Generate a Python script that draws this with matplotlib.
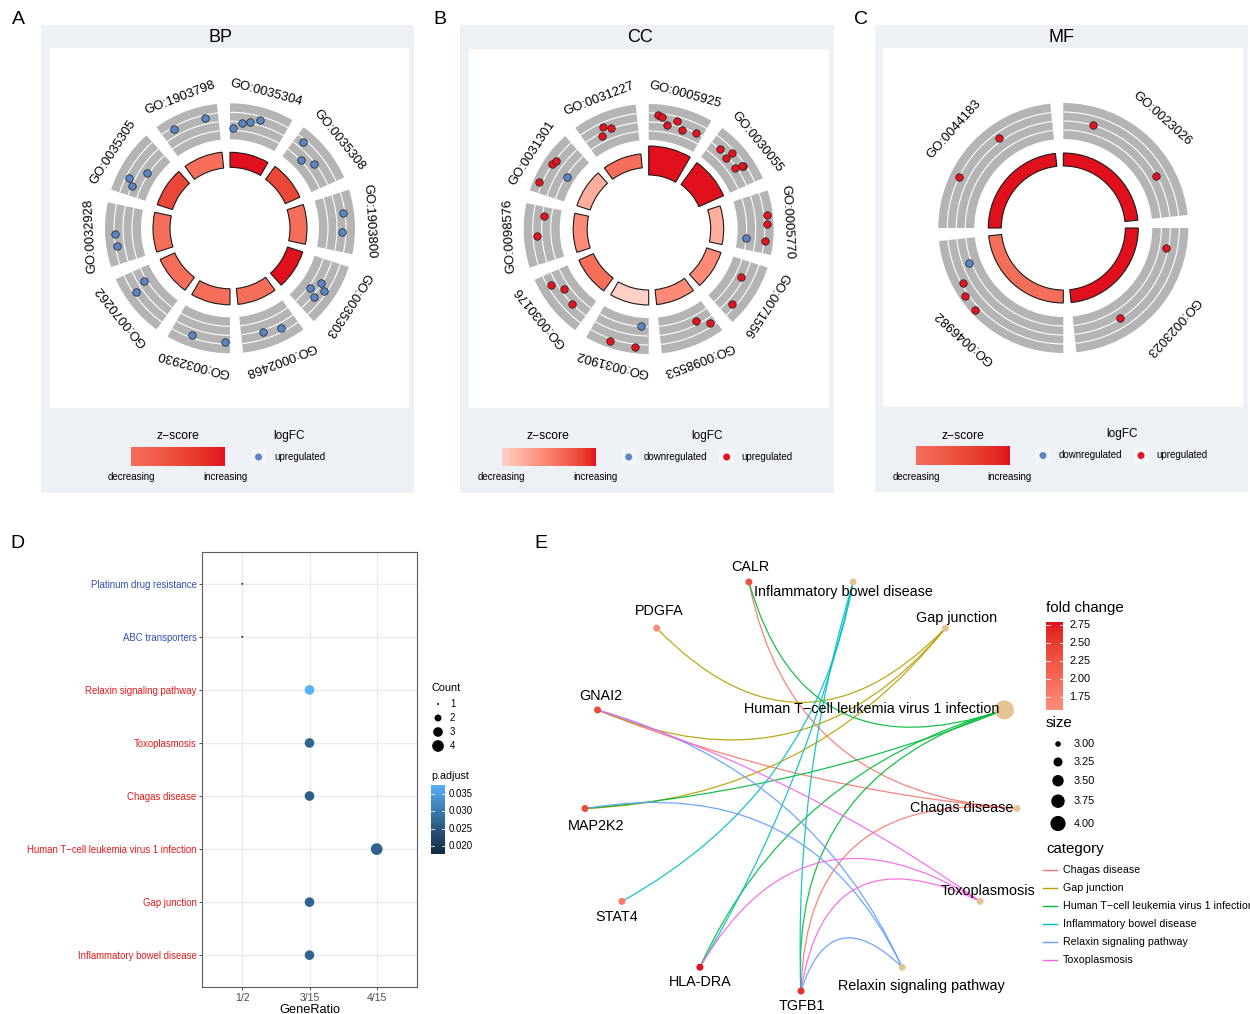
import numpy as np
import matplotlib
matplotlib.use("Agg")
import matplotlib.pyplot as plt
import matplotlib.colors as mcolors
from matplotlib.patches import Wedge, Arc, Rectangle, PathPatch
from matplotlib.path import Path

plt.rcParams["font.family"] = ["Liberation Sans", "DejaVu Sans"]

W, H = 1250, 1014
MINUS = "\u2212"

# ---------------------------------------------------------------- GO circles
# gene_slot: position of each gene inside its term's sector (0..1)
bp_terms = ["GO:0035304", "GO:0035308", "GO:1903800", "GO:0035303", "GO:0002468",
            "GO:0032930", "GO:0070262", "GO:0032928", "GO:0035305", "GO:1903798"]
bp_neglog_padj = [3.0, 3.2, 3.4, 3.2, 3.2, 3.2, 3.2, 3.4, 3.2, 3.2]
bp_gene_slot = [[0.06, 0.22, 0.36, 0.52], [0.15, 0.34, 0.56], [0.35, 0.66],
                [0.63, 0.44, 0.52, 0.71], [0.62, 0.29], [0.66, 0.09], [0.75, 0.66],
                [0.50, 0.31], [0.29, 0.18, 0.53], [0.21, 0.77]]
bp_logfc = [[0.92, 1.42, 1.58, 1.92], [2.00, 0.83, 1.42], [2.08, 1.92],
            [0.92, 1.42, 2.00, 1.58], [1.67, 1.92], [2.00, 2.08], [1.00, 2.08],
            [2.17, 2.08], [2.00, 1.50, 0.92], [2.08, 2.00]]
bp_lfc_range = (0.0, 3.0)

cc_terms = ["GO:0005925", "GO:0030055", "GO:0005770", "GO:0071556", "GO:0098553",
            "GO:0031902", "GO:0030176", "GO:0098576", "GO:0031301", "GO:0031227"]
cc_neglog_padj = [5.8, 5.4, 2.6, 3.0, 3.0, 3.0, 3.2, 2.8, 2.8, 2.8]
cc_gene_slot = [[0.16, 0.23, 0.33, 0.49, 0.62, 0.88], [0.19, 0.38, 0.37, 0.63, 0.68, 0.66],
                [0.38, 0.52, 0.79, 0.77], [0.31, 0.81], [0.29, 0.09], [0.15, 0.63, 0.22],
                [0.81, 0.62, 0.32], [0.83, 0.48], [0.53, 0.60, 0.18, 0.47], [0.39, 0.51, 0.31]]
cc_logfc = [[1.62, 1.50, 0.62, 1.38, 0.38, 0.75], [0.75, 1.50, 0.50, 0.62, 1.50, 1.45],
            [2.25, 2.12, 2.00, -0.38], [0.38, 1.38], [0.38, 1.38], [-0.50, 2.12, 2.25],
            [1.38, 0.38, 0.75], [0.50, 1.38], [1.88, 1.75, 2.25, -0.50], [1.38, 0.88, 0.38]]
cc_lfc_range = (-1.5, 3.0)

mf_terms = ["GO:0023026", "GO:0023023", "GO:0046982", "GO:0044183"]
mf_neglog_padj = [2.6, 2.6, 2.6, 2.6]
mf_gene_slot = [[0.19, 0.725], [0.13, 0.69], [0.83, 0.73, 0.66, 0.56], [0.31, 0.65]]
mf_logfc = [[0.75, 0.62], [0.50, 0.62], [-0.12, 1.62, 2.25, 2.38], [1.88, 1.25]]
mf_lfc_range = (-1.5, 3.0)

# ---------------------------------------------------------------- KEGG dotplot
kegg_terms = ["Platinum drug resistance", "ABC transporters", "Relaxin signaling pathway",
              "Toxoplasmosis", "Chagas disease",
              "Human T" + MINUS + "cell leukemia virus 1 infection",
              "Gap junction", "Inflammatory bowel disease"]
kegg_ratio = ["1/2", "1/2", "3/15", "3/15", "3/15", "4/15", "3/15", "3/15"]
kegg_count = [1, 1, 3, 3, 3, 4, 3, 3]
kegg_padj = [0.0177, 0.0177, 0.0376, 0.0270, 0.0258, 0.0266, 0.0268, 0.0268]
kegg_direction = ["down", "down", "up", "up", "up", "up", "up", "up"]
ratio_levels = ["1/2", "3/15", "4/15"]
padj_breaks = [0.020, 0.025, 0.030, 0.035]

# ---------------------------------------------------------------- gene-concept network
htlv = "Human T" + MINUS + "cell leukemia virus 1 infection"
net_order = ["TGFB1", "Relaxin signaling pathway", "Toxoplasmosis", "Chagas disease",
             htlv, "Gap junction", "Inflammatory bowel disease",
             "CALR", "PDGFA", "GNAI2", "MAP2K2", "STAT4", "HLA-DRA"]
gene_fold_change = {"TGFB1": 2.60, "CALR": 2.30, "PDGFA": 1.57, "GNAI2": 2.40,
                    "MAP2K2": 2.35, "STAT4": 1.85, "HLA-DRA": 2.79}
pathway_genes = {
    "Chagas disease": ["CALR", "GNAI2", "TGFB1"],
    "Gap junction": ["PDGFA", "GNAI2", "MAP2K2"],
    htlv: ["CALR", "MAP2K2", "HLA-DRA", "TGFB1"],
    "Inflammatory bowel disease": ["STAT4", "HLA-DRA", "TGFB1"],
    "Relaxin signaling pathway": ["GNAI2", "MAP2K2", "TGFB1"],
    "Toxoplasmosis": ["GNAI2", "HLA-DRA", "TGFB1"],
}
fc_breaks = [1.75, 2.00, 2.25, 2.50, 2.75]
size_breaks = [3.00, 3.25, 3.50, 3.75, 4.00]
category_palette = ["#F8766D", "#B79F00", "#00BA38", "#00BFC4", "#619CFF", "#F564E3"]

# ---------------------------------------------------------------- colour helpers (CIELAB ramps)
_M = np.array([[0.4124564, 0.3575761, 0.1804375],
               [0.2126729, 0.7151522, 0.0721750],
               [0.0193339, 0.1191920, 0.9503041]])
_WHITE = np.array([0.95047, 1.0, 1.08883])


def to_lab(c):
    rgb = np.asarray(mcolors.to_rgb(c), float)
    lin = np.where(rgb <= 0.04045, rgb / 12.92, ((rgb + 0.055) / 1.055) ** 2.4)
    xyz = (_M @ lin) / _WHITE
    f = np.where(xyz > 216 / 24389, np.cbrt(xyz), (24389 / 27 * xyz + 16) / 116)
    return np.array([116 * f[1] - 16, 500 * (f[0] - f[1]), 200 * (f[1] - f[2])])


def from_lab(lab):
    lab = np.atleast_2d(lab)
    fy = (lab[:, 0] + 16) / 116
    f = np.stack([fy + lab[:, 1] / 500, fy, fy - lab[:, 2] / 200], -1)
    xyz = np.where(f ** 3 > 216 / 24389, f ** 3, (116 * f - 16) / (24389 / 27)) * _WHITE
    lin = np.clip(xyz @ np.linalg.inv(_M).T, 0, 1)
    rgb = np.where(lin <= 0.0031308, 12.92 * lin, 1.055 * lin ** (1 / 2.4) - 0.055)
    return np.clip(rgb, 0, 1)


def lab_ramp(c0, c1, t):
    t = np.atleast_1d(np.asarray(t, float))[:, None]
    l0, l1 = to_lab(c0), to_lab(c1)
    return from_lab(l0 + (l1 - l0) * t)


RED_HIGH = "#E0101C"
DOT_BLUE = "#5A86C6"
DOT_RED = "#E3141F"
GRAY_RING = "#B4B4B4"
PANEL_BG = "#EDF1F5"


def mid_red(v, vmax):
    # white -> red half of a diverging scale centred on zero
    return lab_ramp("#FFFFFF", RED_HIGH, np.clip(np.asarray(v) / vmax, 0, 1))


# ---------------------------------------------------------------- figure
fig = plt.figure(figsize=(W / 100, H / 100), dpi=100)
bg = fig.add_axes([0, 0, 1, 1])
bg.set_xlim(0, W)
bg.set_ylim(H, 0)
bg.axis("off")


def px_axes(x0, y0, x1, y1):
    return fig.add_axes([x0 / W, 1 - y1 / H, (x1 - x0) / W, (y1 - y0) / H])


R_IN, R_OUT = 89.0, 125.0
BAR_MID, BAR_SCALE = 68.5, 5.0
GAP = 6.0


def go_circle(box, center, terms, neglogp, slots, lfcs, lfc_range, label_r):
    x0, y0, x1, y1 = box
    cx, cy = center
    ax = px_axes(x0, y0, x1, y1)
    ax.set_xlim(x0 - cx, x1 - cx)
    ax.set_ylim(cy - y1, cy - y0)
    ax.axis("off")
    n = len(terms)
    step = 360.0 / n
    lo, hi = lfc_range
    z = [(sum(v > 0 for v in g) - sum(v < 0 for v in g)) / np.sqrt(len(g)) for g in lfcs]
    zmax = max(abs(v) for v in z)
    levels = [lev for lev in ("down", "up")
              if any((v < 0) if lev == "down" else (v > 0) for g in lfcs for v in g)]
    pal = dict(zip(levels, [DOT_BLUE, DOT_RED]))
    for i, term in enumerate(terms):
        a0 = i * step
        a1 = a0 + step - GAP
        t1, t2 = 90 - a1, 90 - a0
        ax.add_patch(Wedge((0, 0), R_OUT, t1, t2, width=R_OUT - R_IN,
                           facecolor=GRAY_RING, edgecolor="none", zorder=1))
        for k in range(1, 4):
            r = R_IN + k * (R_OUT - R_IN) / 4
            ax.add_patch(Arc((0, 0), 2 * r, 2 * r, theta1=t1, theta2=t2,
                             color="white", lw=0.8, zorder=2))
        h = BAR_SCALE * neglogp[i]
        ax.add_patch(Wedge((0, 0), BAR_MID + h / 2, t1, t2, width=h,
                           facecolor=mid_red(z[i], zmax)[0], edgecolor="#1A1A1A",
                           lw=0.8, zorder=2))
        for s, v in zip(slots[i], lfcs[i]):
            ang = np.deg2rad(90 - (a0 + s * (step - GAP)))
            r = R_IN + (v - lo) / (hi - lo) * (R_OUT - R_IN)
            ax.scatter(r * np.cos(ang), r * np.sin(ang), s=29,
                       color=pal["down" if v < 0 else "up"], edgecolors="#1A1A1A",
                       linewidths=0.5, zorder=4)
        mid = a0 + (step - GAP) / 2
        ax.text(label_r * np.sin(np.deg2rad(mid)), label_r * np.cos(np.deg2rad(mid)), term,
                rotation=-mid, rotation_mode="anchor", ha="center", va="center",
                fontsize=9.4, zorder=5)
    return z, zmax, levels, pal


# panel backgrounds
for (px0, py0, px1, py1), (wx0, wy0, wx1, wy1) in [
        ((41, 25, 414, 493), (50, 48, 409, 408)),
        ((460, 25, 834, 493), (469, 49, 829, 408)),
        ((875, 25, 1248, 492), (883, 48, 1243, 407))]:
    bg.add_patch(Rectangle((px0, py0), px1 - px0, py1 - py0, facecolor=PANEL_BG, edgecolor="none"))
    bg.add_patch(Rectangle((wx0, wy0), wx1 - wx0, wy1 - wy0, facecolor="white", edgecolor="none"))

circ_bp = go_circle((50, 48, 409, 408), (230, 228.3), bp_terms, bp_neglog_padj,
                    bp_gene_slot, bp_logfc, bp_lfc_range, 140)
circ_cc = go_circle((469, 49, 829, 408), (648.7, 229), cc_terms, cc_neglog_padj,
                    cc_gene_slot, cc_logfc, cc_lfc_range, 139)
circ_mf = go_circle((883, 48, 1243, 407), (1063.3, 228), mf_terms, mf_neglog_padj,
                    mf_gene_slot, mf_logfc, mf_lfc_range, 147)

# ---------------------------------------------------------------- D: KEGG dotplot
axd = px_axes(202, 552, 417, 987)
nk = len(kegg_terms)
kx = [ratio_levels.index(r) + 1 for r in kegg_ratio]
ky = [nk - i for i in range(nk)]
cmin, cmax = min(kegg_count), max(kegg_count)
pmin, pmax = min(kegg_padj), max(kegg_padj)


def count_diam(c):
    return 1.95 * np.sqrt(1 + (np.asarray(c, float) - cmin) / (cmax - cmin) * 35)


def padj_colour(p):
    return lab_ramp("#132B43", "#56B1F7", (np.asarray(p, float) - pmin) / (pmax - pmin))


axd.scatter(kx, ky, s=(count_diam(kegg_count) * 0.72) ** 2, c=padj_colour(kegg_padj),
            edgecolors="none", zorder=3)
axd.set_xlim(0.4, len(ratio_levels) + 0.6)
axd.set_ylim(0.4, nk + 0.6)
axd.set_xticks(range(1, len(ratio_levels) + 1))
axd.set_xticklabels(ratio_levels, fontsize=7.5, color="#4D4D4D")
axd.set_yticks(ky)
axd.set_yticklabels(kegg_terms, fontsize=6.9)
for lab, d in zip(axd.get_yticklabels(), kegg_direction):
    lab.set_color("#3050B5" if d == "down" else "#E41A1C")
axd.grid(True, color="#EBEBEB", lw=1.0, zorder=0)
axd.set_axisbelow(True)
axd.tick_params(length=2.5, width=0.6, color="#333333", pad=1.5)
for sp in axd.spines.values():
    sp.set_color("#5A5A5A")
    sp.set_linewidth(0.8)
axd.set_xlabel("GeneRatio", fontsize=9.2, labelpad=1)

# ---------------------------------------------------------------- E: gene-concept network
axe = px_axes(529, 534.5, 1073, 1032.5)
axe.set_xlim(-1.25, 1.25)
axe.set_ylim(-1.2, 1.2)
axe.axis("off")
nn = len(net_order)
pos = {name: np.array([np.cos(np.deg2rad(270 + i * 360 / nn)),
                       np.sin(np.deg2rad(270 + i * 360 / nn))])
       for i, name in enumerate(net_order)}
categories = list(pathway_genes.keys())
cat_colour = dict(zip(categories, category_palette))


def edge_path(p0, p1):
    m = (p0 + p1) / 2
    d = p1 - p0
    L = np.hypot(*d)
    sh = min(L / 2, 0.999)
    sag = sh * (1 - sh) / np.sqrt(1 - sh ** 2) * (1 + 0.3 * sh)
    nrm = np.array([-d[1], d[0]]) / L
    if np.dot(nrm, -m) < 0:
        nrm = -nrm
    ctrl = m + nrm * 2 * sag
    return Path([p0, ctrl, p1], [Path.MOVETO, Path.CURVE3, Path.CURVE3])


for cat, genes in pathway_genes.items():
    for g in genes:
        axe.add_patch(PathPatch(edge_path(pos[cat], pos[g]), facecolor="none",
                                edgecolor=cat_colour[cat], lw=0.9, alpha=0.9, zorder=1))

fc_min, fc_max = min(gene_fold_change.values()), max(gene_fold_change.values())


def node_diam(v):
    return np.sqrt(49 + 312 * (np.asarray(v, float) - 3))


for g, fc in gene_fold_change.items():
    axe.scatter(*pos[g], s=(7 * 0.72) ** 2, color=mid_red(fc, fc_max)[0],
                edgecolors="none", zorder=3)
for cat, genes in pathway_genes.items():
    axe.scatter(*pos[cat], s=(node_diam(len(genes)) * 0.72) ** 2, color="#E5C494",
                edgecolors="none", zorder=3)

# label placement: (dx, dy) in pixels (y downwards) and alignment
label_place = {
    "CALR": (1, -15, "center"), "Inflammatory bowel disease": (-10, 10, "center"),
    "PDGFA": (3, -17, "center"), "Gap junction": (11, -10, "center"),
    "GNAI2": (3, -14, "center"), htlv: (-5, -1, "right"),
    "MAP2K2": (11, 17, "center"), "Chagas disease": (-4, -1, "right"),
    "STAT4": (-5, 16, "center"), "Toxoplasmosis": (8, -10, "center"),
    "HLA-DRA": (0, 15, "center"), "Relaxin signaling pathway": (19, 19, "center"),
    "TGFB1": (1, 15, "center"),
}
for name in net_order:
    dx, dy, ha = label_place[name]
    axe.annotate(name, xy=pos[name], xytext=(dx * 0.72, -dy * 0.72),
                 textcoords="offset points", ha=ha, va="center", fontsize=10.4,
                 zorder=5, annotation_clip=False)

# ---------------------------------------------------------------- overlay: letters, titles, legends
ov = fig.add_axes([0, 0, 1, 1])
ov.patch.set_alpha(0)
ov.axis("off")

for letter, (x, y) in zip("ABCDE", [(18, 20), (440, 20), (861, 20), (17, 543), (541, 543)]):
    ov.text(x, y, letter, fontsize=14, ha="center", va="center")

for title, x in [("BP", 221), ("CC", 640), ("MF", 1061)]:
    ov.text(x, 37, title, fontsize=13, ha="center", va="center")


def zscore_legend(x0, x1, y0, y1, title_x, circ):
    z, zmax = circ[0], circ[1]
    zs = np.linspace(min(z), max(z), 200)
    img = mid_red(zs, zmax)[None, :, :]
    ov.imshow(img, extent=(x0, x1, y1, y0), aspect="auto", interpolation="bilinear", zorder=2)
    ov.text(title_x, 436, "z" + MINUS + "score", fontsize=8.7, ha="center", va="center")
    ov.text(x0, 477, "decreasing", fontsize=7, ha="center", va="center")
    ov.text(x1, 477, "increasing", fontsize=7, ha="center", va="center")


def lfc_legend(title_x, y, entries, circ):
    pal = circ[3]
    ov.text(title_x, y - 21, "logFC", fontsize=8.5, ha="center", va="center")
    for (dx, tx, lev) in entries:
        ov.add_patch(Rectangle((dx - 8, y - 8), 16, 16, facecolor="#F3F4F6",
                               edgecolor="none", zorder=2))
        ov.scatter(dx, y, s=(7 * 0.72) ** 2, color=pal[lev], edgecolors="none", zorder=3)
        ov.text(tx, y, {"down": "downregulated", "up": "upregulated"}[lev], fontsize=7,
                ha="left", va="center")


zscore_legend(131, 225, 447, 466, 178, circ_bp)
lfc_legend(289, 457, [(258.5, 274, "up")], circ_bp)
zscore_legend(501.5, 595.5, 448, 466, 548, circ_cc)
lfc_legend(707, 457, [(628.7, 644, "down"), (726.7, 741, "up")], circ_cc)
zscore_legend(916, 1010, 446.5, 465, 962.7, circ_mf)
lfc_legend(1121.7, 455.5, [(1043, 1058.7, "down"), (1141, 1156.7, "up")], circ_mf)

# D legends
ov.text(431, 688, "Count", fontsize=7.8, ha="left", va="center")
for i, c in enumerate(range(cmin, cmax + 1)):
    yy = 704 + 14 * i
    ov.scatter(438, yy, s=(count_diam(c) * 0.72) ** 2, color="black", edgecolors="none")
    ov.text(450, yy, str(c), fontsize=6.9, ha="left", va="center")
ov.text(431, 776, "p.adjust", fontsize=7.7, ha="left", va="center")
cb_x0, cb_x1, cb_y0, cb_y1 = 431, 445, 785, 854
ps = np.linspace(pmin, pmax, 200)
ov.imshow(padj_colour(ps)[:, None, :], extent=(cb_x0, cb_x1, cb_y1, cb_y0), origin="lower",
          aspect="auto", interpolation="bilinear", zorder=2)
for b in padj_breaks:
    yy = cb_y1 - (b - pmin) / (pmax - pmin) * (cb_y1 - cb_y0)
    ov.plot([cb_x0, cb_x0 + 3], [yy, yy], color="white", lw=0.6, zorder=3)
    ov.plot([cb_x1 - 3, cb_x1], [yy, yy], color="white", lw=0.6, zorder=3)
    ov.text(449, yy, f"{b:.3f}", fontsize=6.9, ha="left", va="center")

# E legends
ov.text(1046, 608, "fold change", fontsize=10.8, ha="left", va="center")
fb_x0, fb_x1, fb_y0, fb_y1 = 1046, 1063, 622, 710
fcs = np.linspace(fc_min, fc_max, 200)
ov.imshow(mid_red(fcs, fc_max)[:, None, :], extent=(fb_x0, fb_x1, fb_y1, fb_y0), origin="lower",
          aspect="auto", interpolation="bilinear", zorder=2)
for b in fc_breaks:
    yy = fb_y1 - (b - fc_min) / (fc_max - fc_min) * (fb_y1 - fb_y0)
    ov.plot([fb_x0, fb_x0 + 3.5], [yy, yy], color="white", lw=0.6, zorder=3)
    ov.plot([fb_x1 - 3.5, fb_x1], [yy, yy], color="white", lw=0.6, zorder=3)
    ov.text(1069, yy, f"{b:.2f}", fontsize=7.8, ha="left", va="center")

ov.text(1046, 723, "size", fontsize=10.8, ha="left", va="center")
yy = 744.0
prev_h = None
for v in size_breaks:
    d = node_diam(v) * 0.8
    kh = max(18.0, d + 8)
    if prev_h is not None:
        yy += (prev_h + kh) / 2
    ov.scatter(1058, yy, s=(d * 0.72) ** 2, color="black", edgecolors="none")
    ov.text(1074, yy, f"{v:.2f}", fontsize=7.8, ha="left", va="center")
    prev_h = kh

ov.text(1046, 849, "category", fontsize=10.8, ha="left", va="center")
for i, cat in enumerate(categories):
    yy = 870 + 18 * i
    ov.plot([1043, 1057], [yy, yy], color=cat_colour[cat], lw=1.0)
    ov.text(1063, yy, cat, fontsize=7.7, ha="left", va="center")

ov.set_xlim(0, W)
ov.set_ylim(H, 0)

fig.savefig("out.png", dpi=100)
